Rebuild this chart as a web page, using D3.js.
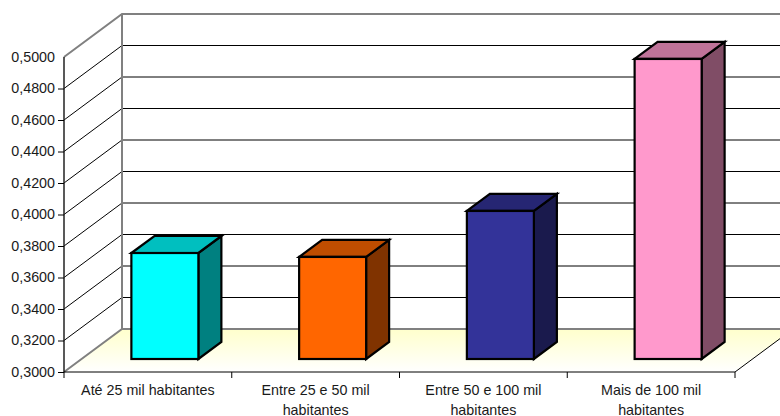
<!DOCTYPE html>
<html>
<head>
<meta charset="utf-8">
<script src="https://cdn.jsdelivr.net/npm/d3@7/dist/d3.min.js"></script>
<style>
html,body{margin:0;padding:0;background:#fff;}
svg{display:block;}
text{font-family:"Liberation Sans",Arial,sans-serif;font-size:14.3px;fill:#1a1a1a;}
</style>
</head>
<body>
<svg id="chart" width="780" height="416"></svg>
<script>
const categories = [
  ["Até 25 mil habitantes"],
  ["Entre 25 e 50 mil", "habitantes"],
  ["Entre 50 e 100 mil", "habitantes"],
  ["Mais de 100 mil", "habitantes"]
];
const values = [0.3673, 0.3648, 0.3940, 0.4905];
const yTicks = [0.30, 0.32, 0.34, 0.36, 0.38, 0.40, 0.42, 0.44, 0.46, 0.48, 0.50];
const frontColors = ["#00ffff", "#ff6600", "#333399", "#ff99cc"];
const topColors = ["#00bfbf", "#bf4d00", "#262673", "#bf7399"];
const sideColors = ["#008080", "#803300", "#1a1a4d", "#804d66"];

const svg = d3.select("#chart");
const depth = { x: 58, y: -43 };       // wall-to-front offset of the chart box
const barShift = { x: 17.5, y: -13 };  // bar front face inside the box
const barDepth = { x: 23, y: -17 };    // depth of each bar

const y = d3.scaleLinear().domain([0.30, 0.50]).range([372, 57]);
const x = d3.scaleBand().domain(d3.range(categories.length)).range([64, 735]);
const barWidth = 67;
const path = pts => d3.line()(pts) + "Z";

// Floor
const defs = svg.append("defs");
const grad = defs.append("linearGradient").attr("id", "floor")
  .attr("x1", 0).attr("y1", 0).attr("x2", 0).attr("y2", 1);
grad.append("stop").attr("offset", 0).attr("stop-color", "#ffffcc");
grad.append("stop").attr("offset", 1).attr("stop-color", "#ffffff");
svg.append("path")
  .attr("d", path([[x.range()[0], y(0.30)], [x.range()[1], y(0.30)],
    [x.range()[1] + depth.x, y(0.30) + depth.y], [x.range()[0] + depth.x, y(0.30) + depth.y]]))
  .attr("fill", "url(#floor)");

// Grid on the back wall and the side wall
const backY = v => y(v) + depth.y;
const gridTicks = yTicks.slice(1, -1);
svg.append("g").selectAll("line").data(gridTicks).join("line")
  .attr("x1", x.range()[0] + depth.x).attr("x2", 800)
  .attr("y1", backY).attr("y2", backY)
  .attr("stroke", "#000").attr("stroke-width", 1);
svg.append("g").selectAll("line").data(gridTicks).join("line")
  .attr("x1", x.range()[0]).attr("x2", x.range()[0] + depth.x)
  .attr("y1", d => y(d)).attr("y2", backY)
  .attr("stroke", "#000").attr("stroke-width", 1);

// Wall outlines
const wallGrey = "#808080";
svg.append("path")
  .attr("d", d3.line()([[x.range()[0], y(0.50)], [x.range()[0] + depth.x, backY(0.50)], [800, backY(0.50)]]))
  .attr("fill", "none").attr("stroke", wallGrey).attr("stroke-width", 2);
svg.append("path")
  .attr("d", d3.line()([[x.range()[0], y(0.30)], [x.range()[0] + depth.x, backY(0.30)], [800, backY(0.30)]]))
  .attr("fill", "none").attr("stroke", wallGrey).attr("stroke-width", 2);
svg.append("line")
  .attr("x1", x.range()[0] + depth.x).attr("x2", x.range()[0] + depth.x)
  .attr("y1", backY(0.50)).attr("y2", backY(0.30))
  .attr("stroke", wallGrey).attr("stroke-width", 2);
// Floor's right edge
svg.append("line")
  .attr("x1", x.range()[1]).attr("y1", y(0.30))
  .attr("x2", x.range()[1] + depth.x).attr("y2", y(0.30) + depth.y)
  .attr("stroke", "#000");

// Bars
const bars = svg.append("g").selectAll("g").data(values).join("g")
  .attr("stroke", "#000").attr("stroke-width", 2.2).attr("stroke-linejoin", "miter");
const left = (d, i) => x(i) + (x.bandwidth() - barWidth) / 2 + barShift.x - 0.5;
const topY = d => y(d) + barShift.y;
const baseY = y(0.30) + barShift.y;
bars.append("path")
  .attr("fill", (d, i) => sideColors[i])
  .attr("d", (d, i) => {
    const r = left(d, i) + barWidth;
    return path([[r, topY(d)], [r + barDepth.x, topY(d) + barDepth.y],
      [r + barDepth.x, baseY + barDepth.y], [r, baseY]]);
  });
bars.append("path")
  .attr("fill", (d, i) => topColors[i])
  .attr("d", (d, i) => {
    const l = left(d, i), r = l + barWidth, t = topY(d);
    return path([[l, t], [l + barDepth.x, t + barDepth.y], [r + barDepth.x, t + barDepth.y], [r, t]]);
  });
bars.append("rect")
  .attr("fill", (d, i) => frontColors[i])
  .attr("x", left).attr("y", topY)
  .attr("width", barWidth).attr("height", d => baseY - topY(d));

// Value axis
const yAxis = d3.axisLeft(y).tickValues(yTicks).tickSize(6).tickPadding(3)
  .tickFormat(d => d3.format(".4f")(d).replace(".", ","));
const yg = svg.append("g").attr("transform", `translate(${x.range()[0]},0)`).call(yAxis);
yg.select(".domain").attr("stroke", "#222").attr("stroke-width", 1.5).attr("d", `M0,${y(0.50)}V${y(0.30)}`);
yg.selectAll(".tick line").attr("stroke", "#000");
yg.selectAll(".tick").filter(d => d === 0.50).select("line").remove();
yg.selectAll("text").attr("dy", "0.3em");

// Category axis
const xAxis = d3.axisBottom(x).tickValues([]).tickSize(0);
const xg = svg.append("g").attr("transform", `translate(0,${y(0.30)})`).call(xAxis);
xg.select(".domain").attr("stroke", "#000").attr("d", `M${x.range()[0]},0H${x.range()[1]}`);
xg.selectAll("line.edge").data(d3.range(categories.length + 1)).join("line")
  .attr("class", "edge")
  .attr("x1", i => x.range()[0] + i * x.step()).attr("x2", i => x.range()[0] + i * x.step())
  .attr("y1", 0).attr("y2", 6).attr("stroke", "#000");

const labels = svg.append("g").selectAll("text").data(categories).join("text")
  .attr("text-anchor", "middle")
  .attr("transform", (d, i) => `translate(${x(i) + x.bandwidth() / 2},0)`);
labels.selectAll("tspan").data(d => d).join("tspan")
  .attr("x", 0).attr("y", (d, i) => 395 + i * 20).text(d => d);
</script>
</body>
</html>
